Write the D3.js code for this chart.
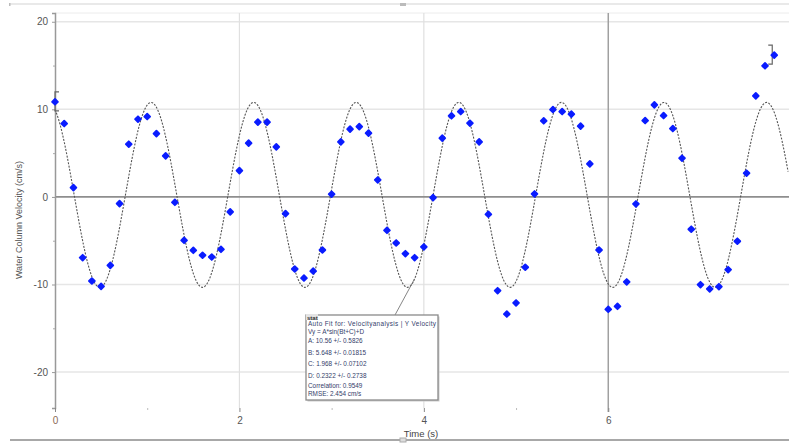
<!DOCTYPE html>
<html><head><meta charset="utf-8">
<script src="https://cdn.jsdelivr.net/npm/d3@7/dist/d3.min.js"></script>
<style>body{margin:0;background:#fff}svg{display:block;font-family:"Liberation Sans",Arial,sans-serif}</style>
</head><body>
<svg id="c" width="789" height="443"></svg>
<script>
// ---- data ----
const times = d3.range(79).map(i => +(i * 0.1).toFixed(1));
const velocity = [10.86, 8.38, 1.06, -6.94, -9.6, -10.21, -7.81, -0.77, 6.02, 8.87,
  9.18, 7.23, 4.69, -0.61, -4.95, -6.09, -6.66, -6.86, -5.98, -1.71,
  3.0, 6.14, 8.54, 8.54, 5.71, -1.91, -8.23, -9.26, -8.46, -6.06,
  0.31, 6.29, 7.74, 8.03, 7.28, 1.94, -3.81, -5.26, -6.48, -6.94,
  -5.71, -0.08, 6.71, 9.26, 9.75, 8.42, 6.29, -1.98, -10.71, -13.37,
  -12.11, -8.03, 0.34, 8.69, 9.98, 9.75, 9.45, 8.08, 3.77, -6.06,
  -12.83, -12.49, -9.71, -0.8, 8.72, 10.51, 9.29, 7.81, 4.42, -3.69,
  -10.02, -10.51, -10.25, -8.31, -5.06, 2.71, 11.54, 14.97, 16.19];
const fitParams = {A: 10.56, B: 5.648, C: 1.968, D: 0.2322};
const yTicks = [-20, -10, 0, 10, 20];
const yMinorTicks = [-15, -5, 5, 15];
const xTicks = [0, 2, 4, 6];
const xMinorTicks = [1, 3, 5];
const statLines = [
  "Auto Fit for: Velocityanalysis | Y Velocity",
  "Vy = A*sin(Bt+C)+D",
  "A: 10.56 +/- 0.5826",
  "B: 5.648 +/- 0.01815",
  "C: 1.968 +/- 0.07102",
  "D: 0.2322 +/- 0.2738",
  "Correlation: 0.9549",
  "RMSE: 2.454 cm/s"
];

// ---- scales ----
const svg = d3.select("#c");
const x = d3.scaleLinear().domain([0, 7.96]).range([55, 789]);
const y = d3.scaleLinear().domain([-24.1, 21.0]).range([408, 13]);
const fit = t => fitParams.A * Math.sin(fitParams.B * t + fitParams.C) + fitParams.D;

// window chrome lines
svg.append("line").attr("x1", 10).attr("x2", 789).attr("y1", 4).attr("y2", 4).attr("stroke", "#e2e2e2").attr("stroke-width", 1.5);
svg.append("rect").attr("x", 400).attr("y", 3).attr("width", 6).attr("height", 3).attr("fill", "#bbb");
svg.append("rect").attr("x", 9).attr("y", 3).attr("width", 1.5).attr("height", 3).attr("fill", "#bbb");
svg.append("line").attr("x1", 10).attr("x2", 789).attr("y1", 440).attr("y2", 440).attr("stroke", "#a8a8a8").attr("stroke-width", 2);
svg.append("rect").attr("x", 400).attr("y", 438).attr("width", 6).attr("height", 4).attr("fill", "#ddd").attr("stroke", "#aaa");

// gridlines
const g = svg.append("g");
g.append("line").attr("x1", x(0)).attr("x2", 789).attr("y1", 13).attr("y2", 13).attr("stroke", "#ececec");
g.selectAll(".hg").data(yTicks.filter(d => d !== 0)).join("line")
  .attr("x1", x(0)).attr("x2", 789).attr("y1", d => y(d)).attr("y2", d => y(d))
  .attr("stroke", "#e6e6e6").attr("stroke-width", 1.5);
g.selectAll(".vg").data(xTicks.filter(d => d !== 0)).join("line")
  .attr("x1", d => x(d)).attr("x2", d => x(d)).attr("y1", 13).attr("y2", d => d === 6 ? 412 : 408)
  .attr("stroke", d => d === 6 ? "#a0a0a0" : "#e0e0e0").attr("stroke-width", d => d === 6 ? 1.5 : 1.2);
g.append("line").attr("x1", x(0)).attr("x2", 789).attr("y1", y(0)).attr("y2", y(0))
  .attr("stroke", "#8e8e8e").attr("stroke-width", 1.8);

// axes
const fmt = d => String(d);
const yAxis = svg.append("g").attr("transform", `translate(${x(0)},0)`)
  .call(d3.axisLeft(y).tickValues(yTicks).tickSize(3).tickPadding(4).tickFormat(fmt));
yAxis.select(".domain").attr("stroke", "#999").attr("stroke-width", 1.5);
yAxis.selectAll(".tick line").attr("stroke", "#999");
yAxis.selectAll("text").attr("fill", "#555").attr("font-size", 10);
const yMinor = svg.append("g").attr("transform", `translate(${x(0)},0)`)
  .call(d3.axisLeft(y).tickValues(yMinorTicks).tickSize(2).tickFormat(""));
yMinor.select(".domain").remove();
yMinor.selectAll(".tick line").attr("stroke", "#aaa");

const xAxis = svg.append("g").attr("transform", "translate(0,408)")
  .call(d3.axisBottom(x).tickValues(xTicks).tickSize(4).tickPadding(5).tickFormat(fmt));
xAxis.select(".domain").remove();
xAxis.selectAll(".tick line").attr("stroke", "#888");
xAxis.selectAll("text").attr("fill", (d) => d === 0 ? "#8a6a55" : "#555").attr("font-size", 10);
const xMinor = svg.append("g").attr("transform", "translate(0,408)")
  .call(d3.axisBottom(x).tickValues(xMinorTicks).tickSize(2).tickFormat(""));
xMinor.select(".domain").remove();
xMinor.selectAll(".tick line").attr("stroke", "#bbb");

// axis titles
svg.append("text").attr("transform", "translate(22,220) rotate(-90)").attr("text-anchor", "middle")
  .attr("font-size", 9).attr("fill", "#555").text("Water Column Velocity (cm/s)");
svg.append("text").attr("x", 421).attr("y", 437).attr("text-anchor", "middle")
  .attr("font-size", 9.5).attr("fill", "#444").text("Time (s)");

// fit curve
const tCurve = d3.range(0, 7.96, 0.01);
svg.append("path").datum(tCurve)
  .attr("d", d3.line().x(t => x(t)).y(t => y(fit(t))))
  .attr("fill", "none").attr("stroke", "#555").attr("stroke-width", 1.1)
  .attr("stroke-dasharray", "2,1.4");

// range brackets
const br = (t, v, dir, dx) => {
  const px = x(t) + dx, top = y(v) - 10, bot = y(v) + 9, w = 4 * dir;
  return `M${px + w},${top}H${px}V${bot}H${px + w}`;
};
svg.append("path").attr("d", br(0, 10.86, 1, 0)).attr("fill", "none").attr("stroke", "#666").attr("stroke-width", 1.2);
svg.append("path").attr("d", br(7.8, 16.19, -1, -2)).attr("fill", "none").attr("stroke", "#666").attr("stroke-width", 1.2);

// data points
svg.append("g").selectAll("path").data(times).join("path")
  .attr("transform", (t, i) => `translate(${x(t)},${y(velocity[i])}) rotate(45)`)
  .attr("d", d3.symbol(d3.symbolSquare, 17))
  .attr("fill", "#0a1cff").attr("stroke", "#0a1cff").attr("stroke-width", 1.8).attr("stroke-linejoin", "round");

// stat box
const bx = 306, by = 315, bw = 132, bh = 85;
svg.append("line").attr("x1", bx + 89).attr("y1", by).attr("x2", x(3.9)).attr("y2", y(fit(3.9)))
  .attr("stroke", "#777").attr("stroke-width", 0.9);
svg.append("rect").attr("x", bx + 1.5).attr("y", by + 1.5).attr("width", bw).attr("height", bh).attr("fill", "#ccc");
svg.append("rect").attr("x", bx).attr("y", by).attr("width", bw).attr("height", bh)
  .attr("fill", "#fff").attr("stroke", "#8a8a8a").attr("stroke-width", 1.3);
svg.append("rect").attr("x", bx).attr("y", by - 1).attr("width", 12).attr("height", 6).attr("fill", "#e4e4e4");
svg.append("text").attr("x", bx + 1).attr("y", by + 5).attr("font-size", 6).attr("font-weight", "bold").attr("fill", "#333").text("stat");
const lineY = [326, 334, 343, 355, 366, 378, 388, 396];
svg.append("g").selectAll("text").data(statLines).join("text")
  .attr("x", bx + 2).attr("y", (d, i) => lineY[i])
  .attr("font-size", 6.4).attr("fill", "#34406a")
  .attr("textLength", (d, i) => i === 0 ? 128 : null)
  .text(d => d);
</script>
</body></html>
